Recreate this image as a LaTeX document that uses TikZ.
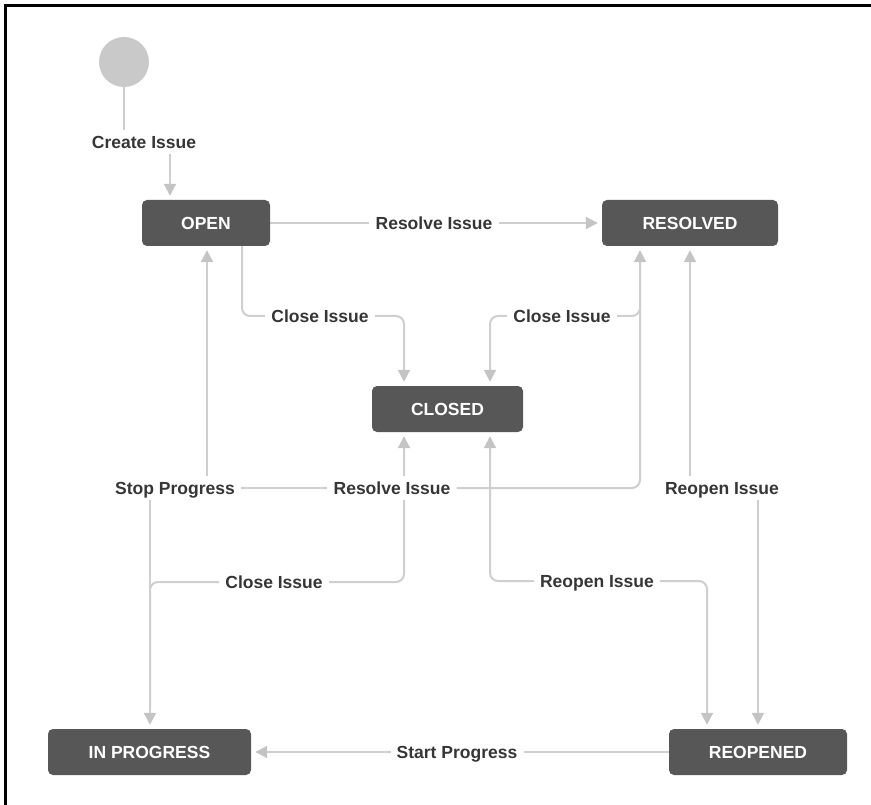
\documentclass[tikz,border=0pt]{standalone}
\usepackage{fontspec}
\setmainfont{Liberation Sans}
\usetikzlibrary{arrows.meta,backgrounds,calc}

\definecolor{boxgray}{HTML}{575757}
\definecolor{linkgray}{HTML}{CFCFCF}
\definecolor{tipgray}{HTML}{C4C4C4}
\definecolor{labelink}{HTML}{363636}
\definecolor{dotgray}{HTML}{C9C9C9}

\newcommand{\wffont}{\fontsize{17.5}{20}\selectfont\bfseries}

\begin{document}
\begin{tikzpicture}[x=1pt,y=-1pt,
  state/.style={fill=boxgray, rounded corners=5pt, text=white, font=\wffont,
    minimum height=46pt, inner sep=0pt},
  tlabel/.style={fill=white, text=labelink, font=\wffont, inner xsep=6pt,
    inner ysep=6pt, text height=12.5pt, text depth=0pt},
  link/.style={draw=linkgray, line width=2pt, rounded corners=8pt},
  arr/.style={link, -{Triangle[length=12pt,width=12pt,color=tipgray,fill=tipgray]},
    shorten >=4pt},
]
\useasboundingbox (0,0) rectangle (871,805);

% frame edges
\draw[line width=2.5pt] (5.3,805) -- (5.3,5.3) -- (871,5.3);

% initial state
\node[circle, fill=dotgray, minimum size=50pt, inner sep=0pt] (start) at (124,62) {};

% workflow states
\node[state, minimum width=128pt] (open)     at (206,223)   {OPEN};
\node[state, minimum width=176pt] (resolved) at (690,223)   {RESOLVED};
\node[state, minimum width=151pt] (closed)   at (447.5,409) {CLOSED};
\node[state, minimum width=203pt] (inprog)   at (149.5,752) {IN PROGRESS};
\node[state, minimum width=178pt] (reopened) at (758,752)   {REOPENED};

% transition labels
\node[tlabel] (create)     at (144,142) {Create Issue};
\node[tlabel] (resolveTop) at (434,223) {Resolve Issue};
\node[tlabel] (closeL)     at (320,316) {Close Issue};
\node[tlabel] (closeR)     at (562,316) {Close Issue};
\node[tlabel] (stop)       at (175,488) {Stop Progress};
\node[tlabel] (resolveMid) at (392,488) {Resolve Issue};
\node[tlabel] (reopenR)    at (722,488) {Reopen Issue};
\node[tlabel] (closeLow)   at (274,582) {Close Issue};
\node[tlabel] (reopenMid)  at (597,581) {Reopen Issue};
\node[tlabel] (startProg)  at (457,752) {Start Progress};

% columns where the transitions meet the states
\coordinate (xCreate)  at (170,0);
\coordinate (xStopUp)  at (207,0);
\coordinate (xCloseL)  at (242,0);
\coordinate (xStopDn)  at (150,0);
\coordinate (xClosedA) at (404,0);
\coordinate (xClosedB) at (490,0);
\coordinate (xResA)    at (640,0);
\coordinate (xResB)    at (690,0);
\coordinate (xReoA)    at (707,0);
\coordinate (xReoB)    at (758,0);

\begin{scope}[on background layer]
  % Create Issue
  \draw[link] (start.south) -- (start.south |- create.north);
  \draw[arr]  (create.south -| xCreate) -- (open.north -| xCreate);
  % Resolve Issue (top)
  \draw[link] (open.east) -- (resolveTop.west);
  \draw[arr]  (resolveTop.east) -- (resolved.west);
  % Close Issue (left)
  \draw[link] (open.south -| xCloseL) |- (closeL.west);
  \draw[arr]  (closeL.east) -| (closed.north -| xClosedA);
  % Close Issue (right)
  \draw[link] ($(resolved.south -| xResA)+(0,6)$) |- (closeR.east);
  \draw[arr]  (closeR.west) -| (closed.north -| xClosedB);
  % Stop Progress
  \draw[arr]  (stop.north -| xStopUp) -- (open.south -| xStopUp);
  \draw[arr]  (stop.south -| xStopDn) -- (inprog.north -| xStopDn);
  % Resolve Issue (middle)
  \draw[link] (stop.east) -- (resolveMid.west);
  \draw[arr]  (resolveMid.east) -| (resolved.south -| xResA);
  % Close Issue (lower)
  \draw[link] ($(inprog.north -| xStopDn)+(0,-20)$) |- (closeLow.west);
  \draw[arr]  (closeLow.east) -| (closed.south -| xClosedA);
  % Reopen Issue (right)
  \draw[arr]  (reopenR.north -| xResB) -- (resolved.south -| xResB);
  \draw[arr]  (reopenR.south -| xReoB) -- (reopened.north -| xReoB);
  % Reopen Issue (middle)
  \draw[arr]  (reopenMid.west) -| (closed.south -| xClosedB);
  \draw[arr]  (reopenMid.east) -| (reopened.north -| xReoA);
  % Start Progress
  \draw[link] (reopened.west) -- (startProg.east);
  \draw[arr]  (startProg.west) -- (inprog.east);
\end{scope}
\end{tikzpicture}
\end{document}
